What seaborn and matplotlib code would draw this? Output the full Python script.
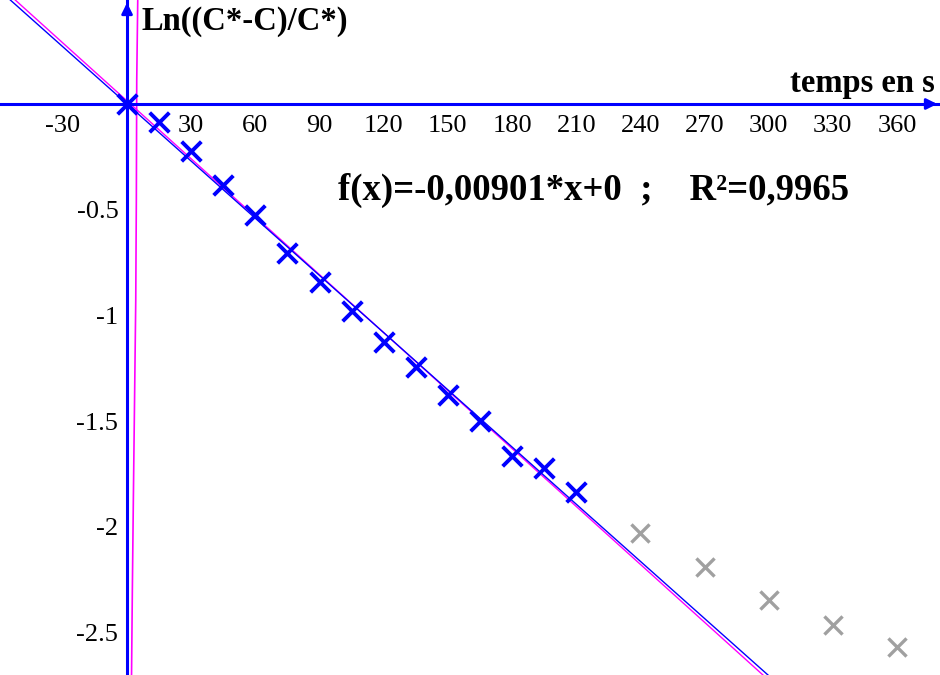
import numpy as np
import pandas as pd
import seaborn as sns
import matplotlib.pyplot as plt

# measured points (time in s, ln((C*-C)/C*))
t_fit = [0, 15, 30, 45, 60, 75, 90, 105, 120, 135, 150, 165, 180, 195, 210]
ln_fit = [0.0, -0.084, -0.224, -0.381, -0.525, -0.703, -0.840, -0.977,
          -1.126, -1.245, -1.376, -1.497, -1.664, -1.722, -1.833]
# later points, not used for the fit
t_late = [240, 270, 300, 330, 360]
ln_late = [-2.030, -2.191, -2.345, -2.465, -2.566]

# fitted lines: slope, intercept
blue_fit = [-0.00901, 0.0]
magenta_fit = [-0.00913, 0.0145]

# near-vertical magenta curve
curve_x = [5.0, 4.53, 4.35, 4.07, 3.51, 2.95, 2.48, 2.10]
curve_y = [0.49, 0.11, -0.45, -0.93, -1.40, -1.87, -2.30, -2.70]

xticks = [-30, 30, 60, 90, 120, 150, 180, 210, 240, 270, 300, 330, 360]
yticks = [-0.5, -1, -1.5, -2, -2.5]
ytick_labels = ['-0.5', '-1', '-1.5', '-2', '-2.5']

xlim = (-59.4, 380.1)
ylim = (-2.70, 0.4917)

sns.set_theme(style='white')
plt.rcParams['font.family'] = ['Liberation Serif', 'DejaVu Serif']
plt.rcParams['axes.unicode_minus'] = False
plt.rcParams['text.color'] = 'black'

fig = plt.figure(figsize=(9.4, 6.75), dpi=100)
ax = fig.add_axes([0, 0, 1, 1])

# fit lines across the whole view
xs = np.array(xlim)
df_blue = pd.DataFrame({'x': xs, 'y': blue_fit[0] * xs + blue_fit[1]})
df_mag = pd.DataFrame({'x': xs, 'y': magenta_fit[0] * xs + magenta_fit[1]})
sns.lineplot(data=df_mag, x='x', y='y', color='#ff00ff', lw=1, ax=ax)
sns.lineplot(data=df_blue, x='x', y='y', color='#0000ff', lw=1, ax=ax)

df_curve = pd.DataFrame({'x': curve_x, 'y': curve_y})
sns.lineplot(data=df_curve, x='x', y='y', color='#ff00ff', lw=1.2, sort=False, ax=ax)

sns.scatterplot(x=t_late, y=ln_late, marker='x', s=170, color='#a0a0a0',
                linewidth=2.4, ax=ax, zorder=4)
sns.scatterplot(x=t_fit, y=ln_fit, marker='x', s=200, color='#0000ff',
                linewidth=2.8, ax=ax, zorder=5)

ax.set_xlim(*xlim)
ax.set_ylim(*ylim)
ax.set_xlabel('')
ax.set_ylabel('')

# axes through the origin
for side in ['top', 'right']:
    ax.spines[side].set_visible(False)
for side in ['left', 'bottom']:
    ax.spines[side].set_position('zero')
    ax.spines[side].set_color('#0000ff')
    ax.spines[side].set_linewidth(2.2)

ax.set_xticks(xticks)
ax.set_xticklabels([str(v) for v in xticks])
ax.set_yticks(yticks, ytick_labels)
ax.tick_params(axis='both', direction='inout', length=8.6, width=1,
               color='#0000ff', labelsize=19, labelcolor='black')
ax.tick_params(axis='x', pad=3.5)
ax.tick_params(axis='y', pad=2)

# arrow heads
ax.annotate('', xy=(1.0, 0), xytext=(0.985, 0),
            xycoords=('axes fraction', 'data'),
            arrowprops=dict(arrowstyle='-|>', color='#0000ff', lw=2, mutation_scale=16))
ax.annotate('', xy=(0, 1.0), xytext=(0, 0.98),
            xycoords=('data', 'axes fraction'),
            arrowprops=dict(arrowstyle='-|>', color='#0000ff', lw=2, mutation_scale=16))

W, H = 940, 675
fig.text(141 / W, 1 - 30 / H, 'Ln((C*-C)/C*)', fontsize=23.5, fontweight='bold',
         color='black', ha='left', va='baseline')
fig.text(935 / W, 1 - 92 / H, 'temps en s', fontsize=23.5, fontweight='bold',
         color='black', ha='right', va='baseline')
fig.text(338 / W, 1 - 200 / H, 'f(x)=-0,00901*x+0  ;    R²=0,9965', fontsize=26.5,
         fontweight='bold', color='black', ha='left', va='baseline')

fig.savefig('out.png', dpi=100)
